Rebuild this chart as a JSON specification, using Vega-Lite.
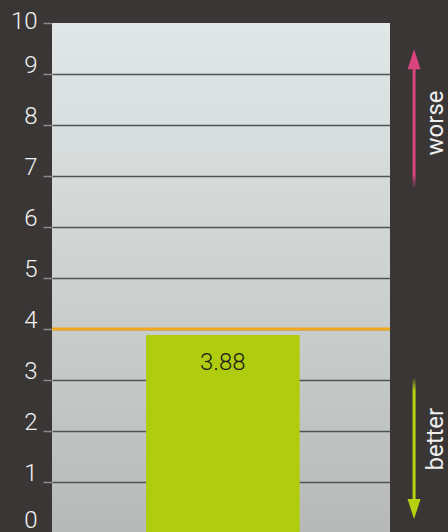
{
  "$schema": "https://vega.github.io/schema/vega-lite/v6.json",
  "background": "#3a3636",
  "padding": {"left": 10, "top": 9, "right": 0, "bottom": 0},
  "spacing": 0,
  "bounds": "flush",
  "config": {"view": {"stroke": null}, "font": "Roboto"},
  "datasets": {
    "score": [{"item": "score", "value": 3.88}],
    "limit": [{"value": 4}],
    "arrows": [
      {"dir": "worse", "col": "arrow", "from": 6.75, "to": 9.1, "head": 9.29},
      {"dir": "better", "col": "arrow", "from": 3.05, "to": 0.5, "head": 0.47}
    ],
    "words": [
      {"word": "worse", "col": "word", "pos": 8.04},
      {"word": "better", "col": "word", "pos": 1.84}
    ]
  },
  "hconcat": [
    {
      "width": 338,
      "height": 510,
      "view": {
        "stroke": null,
        "fill": {
          "gradient": "linear",
          "x1": 0, "y1": 0, "x2": 0, "y2": 1,
          "stops": [
            {"offset": 0, "color": "#e1e7e7"},
            {"offset": 0.5, "color": "#cdd2d1"},
            {"offset": 1, "color": "#b6b9b8"}
          ]
        }
      },
      "layer": [
        {
          "data": {"name": "score"},
          "mark": {"type": "bar", "color": "#b0cc0e"},
          "encoding": {
            "x": {
              "field": "item", "type": "nominal", "axis": null,
              "scale": {"paddingInner": 0, "paddingOuter": 0.6, "align": 0.51}
            },
            "y": {
              "field": "value", "type": "quantitative",
              "scale": {"domain": [0, 10], "nice": false},
              "axis": {
                "title": null,
                "values": [0, 1, 2, 3, 4, 5, 6, 7, 8, 9, 10],
                "domain": false,
                "grid": true,
                "gridColor": "#4e5454",
                "gridWidth": 1.5,
                "gridOpacity": {"condition": {"test": "datum.value > 0 && datum.value < 10", "value": 1}, "value": 0},
                "ticks": true,
                "tickSize": 9,
                "tickColor": "#8a8a8a",
                "tickWidth": 1.5,
                "labelColor": "#f2f2f2",
                "labelFont": "Roboto",
                "labelFontSize": 24,
                "labelFontWeight": 300,
                "labelPadding": 6,
                "labelBaseline": {"condition": {"test": "datum.value == 10", "value": "middle"}, "value": "alphabetic"},
                "labelOffset": {"condition": {"test": "datum.value == 0", "value": -6}, "value": -2},
                "labelFlush": false,
                "labelBound": false,
                "labelOverlap": false
              }
            }
          }
        },
        {
          "data": {"name": "limit"},
          "mark": {"type": "rule", "color": "#f2a81d", "strokeWidth": 3},
          "encoding": {"y": {"field": "value", "type": "quantitative"}}
        },
        {
          "data": {"name": "score"},
          "mark": {
            "type": "text", "baseline": "middle", "align": "center", "dy": 28,
            "font": "Roboto", "fontSize": 24, "fontWeight": 300, "color": "#1c1c1c"
          },
          "encoding": {
            "x": {"field": "item", "type": "nominal"},
            "y": {"field": "value", "type": "quantitative"},
            "text": {"field": "value", "type": "quantitative", "format": ".2f"}
          }
        }
      ]
    },
    {
      "width": 58,
      "height": 510,
      "view": {"stroke": null},
      "encoding": {
        "x": {
          "field": "col", "type": "nominal", "axis": null,
          "scale": {"type": "point", "domain": ["arrow", "word"], "padding": 0.5, "align": 0.83}
        }
      },
      "layer": [
        {
          "data": {"name": "arrows"},
          "transform": [{"filter": "datum.dir == 'worse'"}],
          "mark": {
            "type": "bar", "width": 3,
            "fill": {
              "gradient": "linear", "x1": 0, "y1": 0, "x2": 0, "y2": 1,
              "stops": [
                {"offset": 0, "color": "#d9447e"},
                {"offset": 0.88, "color": "#d9447e"},
                {"offset": 1, "color": "rgba(217,68,126,0)"}
              ]
            }
          },
          "encoding": {
            "y": {"field": "from", "type": "quantitative", "scale": {"domain": [0, 10], "nice": false}, "axis": null},
            "y2": {"field": "to"}
          }
        },
        {
          "data": {"name": "arrows"},
          "transform": [{"filter": "datum.dir == 'better'"}],
          "mark": {
            "type": "bar", "width": 3,
            "fill": {
              "gradient": "linear", "x1": 0, "y1": 0, "x2": 0, "y2": 1,
              "stops": [
                {"offset": 0, "color": "rgba(181,210,16,0)"},
                {"offset": 0.1, "color": "#b5d210"},
                {"offset": 1, "color": "#b5d210"}
              ]
            }
          },
          "encoding": {
            "y": {"field": "from", "type": "quantitative"},
            "y2": {"field": "to"}
          }
        },
        {
          "data": {"name": "arrows"},
          "transform": [{"filter": "datum.dir == 'worse'"}],
          "mark": {"type": "point", "shape": "M0,-1L0.65,1L-0.65,1Z", "size": 400, "filled": true, "opacity": 1, "color": "#d9447e"},
          "encoding": {"y": {"field": "head", "type": "quantitative"}}
        },
        {
          "data": {"name": "arrows"},
          "transform": [{"filter": "datum.dir == 'better'"}],
          "mark": {"type": "point", "shape": "M0,1L0.65,-1L-0.65,-1Z", "size": 400, "filled": true, "opacity": 1, "color": "#b5d210"},
          "encoding": {"y": {"field": "head", "type": "quantitative"}}
        },
        {
          "data": {"name": "words"},
          "mark": {
            "type": "text", "angle": 270, "align": "center", "baseline": "alphabetic",
            "font": "Roboto", "fontSize": 24, "color": "#eeeeee"
          },
          "encoding": {
            "y": {"field": "pos", "type": "quantitative"},
            "text": {"field": "word"}
          }
        }
      ]
    }
  ]
}
